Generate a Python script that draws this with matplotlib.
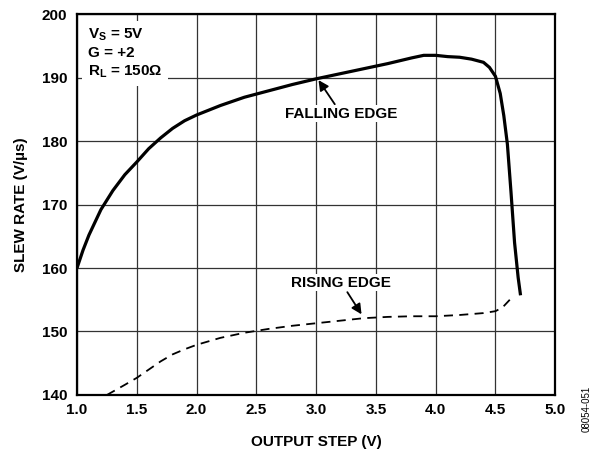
import matplotlib
matplotlib.use('Agg')
import matplotlib.pyplot as plt

plt.rcParams['font.family'] = ['Liberation Sans', 'DejaVu Sans']
plt.rcParams['font.weight'] = 'bold'
plt.rcParams['mathtext.fontset'] = 'custom'
plt.rcParams['mathtext.rm'] = 'Liberation Sans:bold'
plt.rcParams['mathtext.it'] = 'Liberation Sans:bold'
plt.rcParams['mathtext.bf'] = 'Liberation Sans:bold'

# falling edge (solid)
fall_x = [1.0, 1.05, 1.1, 1.2, 1.25, 1.3, 1.4, 1.5, 1.6, 1.7, 1.8, 1.9, 2.0, 2.2, 2.4,
          2.6, 2.8, 3.0, 3.2, 3.4, 3.6, 3.8, 3.9, 4.0, 4.1, 4.2, 4.3, 4.4, 4.45,
          4.5, 4.54, 4.57, 4.6, 4.63, 4.66, 4.69, 4.71]
fall_y = [160, 162.8, 165.2, 169.2, 170.7, 172.2, 174.7, 176.7, 178.8, 180.5, 182.0,
          183.2, 184.1, 185.6, 186.9, 187.9, 188.9, 189.8, 190.6, 191.4, 192.2,
          193.1, 193.5, 193.5, 193.3, 193.2, 192.9, 192.4, 191.6, 190.2, 187.5,
          184.0, 179.5, 172.0, 164.0, 158.5, 155.7]

# rising edge (dashed)
rise_x = [1.25, 1.4, 1.5, 1.6, 1.7, 1.8, 1.9, 2.0, 2.2, 2.4, 2.6, 2.8, 3.0, 3.2, 3.4,
          3.6, 3.8, 4.0, 4.2, 4.4, 4.5, 4.56, 4.62]
rise_y = [140, 141.6, 142.7, 144.0, 145.3, 146.4, 147.2, 147.9, 149.0, 149.8, 150.4,
          150.9, 151.3, 151.7, 152.1, 152.3, 152.4, 152.4, 152.6, 152.9, 153.2,
          153.8, 155.0]

x_ticks = [1.0, 1.5, 2.0, 2.5, 3.0, 3.5, 4.0, 4.5, 5.0]
y_ticks = [140, 150, 160, 170, 180, 190, 200]

fig = plt.figure(figsize=(5.97, 4.54), dpi=100)
ax = fig.add_axes([0.129, 0.130, 0.801, 0.839])

ax.plot(fall_x, fall_y, color='black', linewidth=2.3, solid_capstyle='butt', zorder=3)
ax.plot(rise_x, rise_y, color='black', linewidth=1.3, dashes=(5, 3.5), zorder=3)

ax.set_xlim(1.0, 5.0)
ax.set_ylim(140, 200)
ax.set_xticks(x_ticks)
ax.set_xticklabels([f'{v:.1f}' for v in x_ticks])
ax.set_yticks(y_ticks)
ax.tick_params(axis='x', length=0, labelsize=11, pad=6)
ax.tick_params(axis='y', length=0, labelsize=11, pad=7)
ax.grid(True, color='#333333', linewidth=0.9)
ax.set_axisbelow(True)
for s in ax.spines.values():
    s.set_linewidth(1.6)

ax.set_xlabel('OUTPUT STEP (V)', fontsize=11, fontweight='bold', labelpad=13)
ax.set_ylabel('SLEW RATE (V/µs)', fontsize=11, fontweight='bold', labelpad=10)

ax.text(0.022, 0.967, 'V$_{S}$ = 5V\nG = +2\nR$_{L}$ = 150Ω', transform=ax.transAxes,
        fontsize=11, fontweight='bold', va='top', ha='left', linespacing=1.3,
        bbox=dict(facecolor='white', edgecolor='none', pad=4), zorder=4)

ax.annotate('FALLING EDGE', xy=(3.02, 189.6), xytext=(3.21, 184.3),
            fontsize=11, fontweight='bold', ha='center', va='center',
            bbox=dict(facecolor='white', edgecolor='none', pad=1),
            arrowprops=dict(arrowstyle='-|>', color='black', lw=1.3,
                            mutation_scale=15, shrinkA=1, shrinkB=0), zorder=4)
ax.annotate('RISING EDGE', xy=(3.38, 152.7), xytext=(3.21, 157.7),
            fontsize=11, fontweight='bold', ha='center', va='center',
            bbox=dict(facecolor='white', edgecolor='none', pad=1),
            arrowprops=dict(arrowstyle='-|>', color='black', lw=1.3,
                            mutation_scale=15, shrinkA=1, shrinkB=0), zorder=4)

fig.text(0.982, 0.10, '08054-051', rotation=90, fontsize=7, fontweight='normal',
         ha='center', va='center')

fig.savefig('out.png', dpi=100)
